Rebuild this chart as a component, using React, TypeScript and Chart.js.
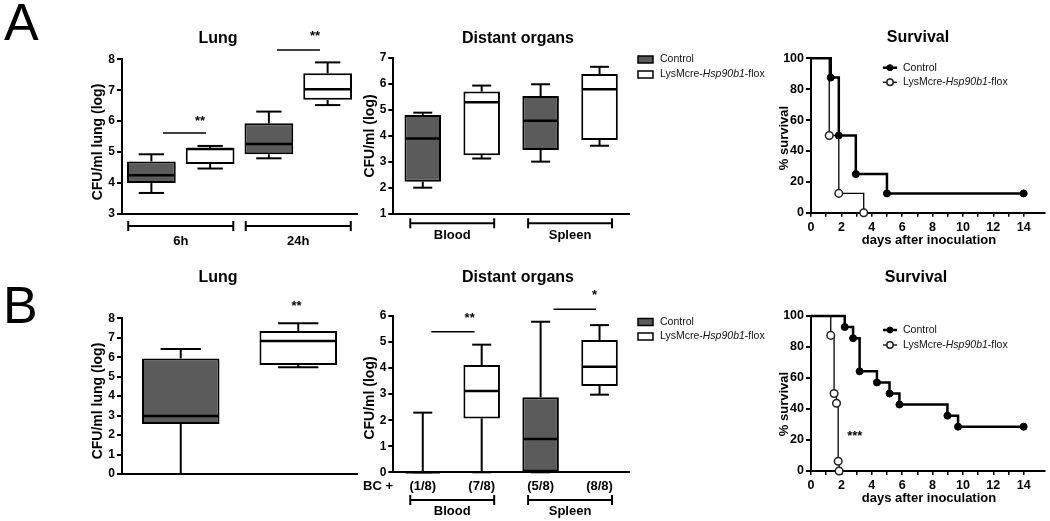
import React, { useEffect, useRef } from 'react';
import { Chart, registerables } from 'chart.js';

Chart.register(...registerables);

const W = 1050;
const H = 521;
const FF = '"Liberation Sans", Arial, Helvetica, sans-serif';
const CTRL_FILL = '#5b5b5b';
const LYS_FILL = '#ffffff';
const INK = '#000000';

// ---------------- data ----------------
const seriesNames = ['Control', 'LysMcre-Hsp90b1-flox'];
const italicGene = 'Hsp90b1';

// box-plot stats per group: [min, q1, median, q3, max]
const lungAGroups = ['6h', '24h'];
const lungACtrl = [[3.68, 4.0, 4.25, 4.7, 4.93], [4.8, 4.93, 5.26, 5.93, 6.31]];
const lungALys = [[4.47, 4.62, 5.1, 5.13, 5.2], [6.52, 6.69, 7.03, 7.55, 7.9]];

const organGroups = ['Blood', 'Spleen'];
const organsACtrl = [[2.01, 2.24, 3.9, 4.8, 4.89], [3.01, 3.46, 4.58, 5.53, 5.98]];
const organsALys = [[3.13, 3.26, 5.29, 5.7, 5.93], [3.62, 3.84, 5.79, 6.37, 6.65]];

const lungBGroups = [''];
const lungBCtrl = [[0, 2.57, 2.98, 5.94, 6.42]];
const lungBLys = [[5.48, 5.6, 6.83, 7.35, 7.74]];

const organsBCtrl = [[0, 0, 0, 0, 2.29], [0, 0, 1.28, 2.88, 5.78]];
const organsBLys = [[0, 2.07, 3.12, 4.12, 4.9], [2.98, 3.31, 4.05, 5.08, 5.65]];
const bcCtrl = ['(1/8)', '(5/8)'];
const bcLys = ['(7/8)', '(8/8)'];

// survival (Kaplan-Meier): day of event, % surviving after it
const survADaysCtrl = [0, 1.3, 1.83, 2.95, 5, 14];
const survAPctCtrl = [100, 87.5, 50, 25, 12.5, 12.5];
const survADaysLys = [0, 1.2, 1.83, 3.47];
const survAPctLys = [100, 50, 12.5, 0];
const survBDaysCtrl = [0, 2.22, 2.77, 3.2, 4.34, 5.17, 5.82, 8.98, 9.68, 14];
const survBPctCtrl = [100, 92.9, 85.7, 64.3, 57.1, 50, 42.9, 35.7, 28.6, 28.6];
const survBDaysLys = [0, 1.3, 1.52, 1.68, 1.79, 1.85];
const survBPctLys = [100, 87.5, 50, 43.75, 6.25, 0];

// ---------------- helpers ----------------
type Area = { l: number; r: number; t: number; b: number };

function font(size: number, bold = false, italic = false) {
  return `${italic ? 'italic ' : ''}${bold ? 'bold ' : ''}${size}px ${FF}`;
}

function text(ctx: CanvasRenderingContext2D, s: string, x: number, y: number, size: number, bold = true, align: CanvasTextAlign = 'center', baseline: CanvasTextBaseline = 'alphabetic') {
  ctx.font = font(size, bold);
  ctx.fillStyle = INK;
  ctx.textAlign = align;
  ctx.textBaseline = baseline;
  ctx.fillText(s, x, y);
}

function rotText(ctx: CanvasRenderingContext2D, s: string, x: number, y: number, size: number) {
  ctx.save();
  ctx.translate(x, y);
  ctx.rotate(-Math.PI / 2);
  text(ctx, s, 0, 0, size, true, 'center', 'middle');
  ctx.restore();
}

function seriesLabel(ctx: CanvasRenderingContext2D, name: string, x: number, y: number, size: number) {
  const parts = name.split(new RegExp(`(${italicGene})`));
  let cx = x;
  ctx.fillStyle = '#111';
  ctx.textAlign = 'left';
  ctx.textBaseline = 'middle';
  for (const part of parts) {
    if (!part) continue;
    ctx.font = font(size, false, part === italicGene);
    ctx.fillText(part, cx, y);
    cx += ctx.measureText(part).width;
  }
}

function seg(ctx: CanvasRenderingContext2D, x1: number, y1: number, x2: number, y2: number) {
  ctx.beginPath();
  ctx.moveTo(x1, y1);
  ctx.lineTo(x2, y2);
  ctx.stroke();
}

// ---------------- box panels ----------------
type Sig = { group: number; from?: number; to?: number; lineY?: number; starX: number; starY: number; label: string };
type BoxPanel = {
  area: Area; yMin: number; yMax: number;
  groups: string[]; ctrl: number[][]; lys: number[][];
  barPct: number; catPct: number;
  title: string; titleX: number; titleY: number;
  yTitle: string; yTitleX: number; yTitleY: number;
  bracket?: { y: number; half: number; labelY: number };
  sigs: Sig[];
  bc?: { y: number; labelX: number; ctrl: string[]; lys: string[] };
  legend?: { boxX: number; rows: number[]; textX: number };
  letter?: { text: string; x: number; y: number };
};

function boxChart(canvas: HTMLCanvasElement, p: BoxPanel) {
  const { l, r, t, b } = p.area;
  const stats = [p.ctrl, p.lys];
  const fills = [CTRL_FILL, LYS_FILL];
  const datasets = stats.map((st, k) => ({
    label: seriesNames[k],
    data: st.map((s) => [s[1], s[3]]),
    backgroundColor: fills[k],
    borderColor: INK,
    borderWidth: 2,
    borderSkipped: false,
    barPercentage: p.barPct,
    categoryPercentage: p.catPct,
  }));

  const plugin = {
    id: 'boxDecor',
    afterDatasetsDraw(chart: any) {
      const ctx = chart.ctx as CanvasRenderingContext2D;
      const ys = chart.scales.y;
      ctx.save();
      ctx.strokeStyle = INK;
      stats.forEach((st, di) => {
        const meta = chart.getDatasetMeta(di);
        st.forEach((s, j) => {
          const el = meta.data[j];
          const { x, width } = el.getProps(['x', 'width'], true);
          const yp = (v: number) => ys.getPixelForValue(v);
          const cap = (width * 0.52) / 2;
          ctx.lineWidth = 2;
          seg(ctx, x, yp(s[3]), x, yp(s[4]));
          seg(ctx, x - cap, yp(s[4]), x + cap, yp(s[4]));
          seg(ctx, x, yp(s[1]), x, yp(s[0]));
          seg(ctx, x - cap, yp(s[0]), x + cap, yp(s[0]));
          ctx.lineWidth = 2.5;
          seg(ctx, x - width / 2 + 1, yp(s[2]), x + width / 2 - 1, yp(s[2]));
        });
      });
      ctx.restore();
    },
    afterDraw(chart: any) {
      const ctx = chart.ctx as CanvasRenderingContext2D;
      const xs = chart.scales.x;
      const ys = chart.scales.y;
      const catW = (xs.right - xs.left) / p.groups.length;
      const cx = (i: number) => xs.getPixelForValue(i);
      ctx.save();
      text(ctx, p.title, p.titleX, p.titleY, 16);
      rotText(ctx, p.yTitle, p.yTitleX, p.yTitleY, 14);
      ctx.strokeStyle = INK;
      if (p.bracket) {
        const br = p.bracket;
        ctx.lineWidth = 2;
        p.groups.forEach((g, i) => {
          const x1 = cx(i) - br.half * catW;
          const x2 = cx(i) + br.half * catW;
          seg(ctx, x1, br.y, x2, br.y);
          seg(ctx, x1, br.y - 5, x1, br.y + 5);
          seg(ctx, x2, br.y - 5, x2, br.y + 5);
          text(ctx, g, cx(i), br.labelY, 13);
        });
      }
      p.sigs.forEach((s) => {
        if (s.lineY !== undefined && s.from !== undefined && s.to !== undefined) {
          ctx.lineWidth = 1.5;
          const y = ys.getPixelForValue(s.lineY);
          seg(ctx, cx(s.group) + s.from * catW, y, cx(s.group) + s.to * catW, y);
        }
        text(ctx, s.label, cx(s.group) + s.starX * catW, ys.getPixelForValue(s.starY), 13);
      });
      if (p.bc) {
        const bc = p.bc;
        text(ctx, 'BC +', bc.labelX, bc.y, 13);
        [bc.ctrl, bc.lys].forEach((labels, di) => {
          const meta = chart.getDatasetMeta(di);
          labels.forEach((lab, j) => text(ctx, lab, meta.data[j].x, bc.y, 13));
        });
      }
      if (p.legend) {
        const lg = p.legend;
        chart.data.datasets.forEach((ds: any, i: number) => {
          const y = lg.rows[i];
          ctx.fillStyle = ds.backgroundColor;
          ctx.fillRect(lg.boxX, y - 3.5, 15, 7);
          ctx.lineWidth = 1.5;
          ctx.strokeStyle = INK;
          ctx.strokeRect(lg.boxX, y - 3.5, 15, 7);
          seriesLabel(ctx, ds.label, lg.textX, y, 10.5);
        });
      }
      if (p.letter) {
        ctx.font = font(52);
        ctx.fillStyle = INK;
        ctx.textAlign = 'left';
        ctx.textBaseline = 'alphabetic';
        ctx.fillText(p.letter.text, p.letter.x, p.letter.y);
      }
      ctx.restore();
    },
  };

  return new Chart(canvas, {
    type: 'bar',
    data: { labels: p.groups, datasets: datasets as any },
    options: {
      animation: false,
      responsive: false,
      events: [],
      layout: { padding: { left: 0, top: t, right: W - r, bottom: 0 } },
      plugins: { legend: { display: false }, title: { display: false }, tooltip: { enabled: false } },
      scales: {
        x: {
          type: 'category',
          offset: true,
          grid: { display: false },
          ticks: { display: false },
          border: { display: true, color: INK, width: 2 },
          afterFit: (s: any) => { s.height = H - b; },
        },
        y: {
          type: 'linear',
          min: p.yMin,
          max: p.yMax,
          ticks: { stepSize: 1, color: INK, padding: 2, font: { family: FF, size: 12, weight: 'bold' } },
          grid: { display: true, drawOnChartArea: false, drawTicks: true, tickLength: 5, color: INK, lineWidth: 2 },
          border: { display: true, color: INK, width: 2 },
          afterFit: (s: any) => { s.width = l; },
        },
      },
    } as any,
    plugins: [plugin],
  });
}

// ---------------- survival panels ----------------
type SurvPanel = {
  area: Area; xMax: number;
  ctrlDays: number[]; ctrlPct: number[]; lysDays: number[]; lysPct: number[];
  titleX: number; titleY: number;
  yTitleX: number; yTitleY: number; xTitleX: number; xTitleY: number;
  legend: { x0: number; x1: number; textX: number; rows: number[] };
  stars?: { text: string; x: number; y: number };
};

function survChart(canvas: HTMLCanvasElement, p: SurvPanel) {
  const { l, r, t, b } = p.area;
  const mk = (days: number[], pct: number[]) => days.map((d, i) => ({ x: d, y: pct[i] }));
  const datasets = [
    {
      label: seriesNames[0], data: mk(p.ctrlDays, p.ctrlPct), stepped: 'before',
      borderColor: INK, borderWidth: 2.5,
      pointRadius: p.ctrlDays.map((_, i) => (i === 0 ? 0 : 3.5)),
      pointBackgroundColor: INK, pointBorderColor: INK, pointBorderWidth: 1,
      fill: false, clip: false, legendRadius: 3,
    },
    {
      label: seriesNames[1], data: mk(p.lysDays, p.lysPct), stepped: 'before',
      borderColor: INK, borderWidth: 1.3,
      pointRadius: p.lysDays.map((_, i) => (i === 0 ? 0 : 3.8)),
      pointBackgroundColor: '#ffffff', pointBorderColor: '#222222', pointBorderWidth: 1.5,
      fill: false, clip: false, legendRadius: 3.2,
    },
  ];
  const tickFont = { family: FF, size: 12.5, weight: 'bold' };
  const plugin = {
    id: 'survDecor',
    afterDraw(chart: any) {
      const ctx = chart.ctx as CanvasRenderingContext2D;
      const xs = chart.scales.x;
      const ys = chart.scales.y;
      ctx.save();
      text(ctx, 'Survival', p.titleX, p.titleY, 16);
      rotText(ctx, '% survival', p.yTitleX, p.yTitleY, 13);
      text(ctx, 'days after inoculation', p.xTitleX, p.xTitleY, 13);
      const lg = p.legend;
      chart.data.datasets.forEach((ds: any, i: number) => {
        const y = lg.rows[i];
        ctx.strokeStyle = INK;
        ctx.lineWidth = ds.borderWidth;
        seg(ctx, lg.x0, y, lg.x1, y);
        ctx.beginPath();
        ctx.arc((lg.x0 + lg.x1) / 2, y, ds.legendRadius, 0, Math.PI * 2);
        ctx.fillStyle = ds.pointBackgroundColor;
        ctx.fill();
        ctx.lineWidth = ds.pointBorderWidth;
        ctx.strokeStyle = ds.pointBorderColor;
        ctx.stroke();
        seriesLabel(ctx, ds.label, lg.textX, y, 10.5);
      });
      if (p.stars) {
        text(ctx, p.stars.text, xs.getPixelForValue(p.stars.x), ys.getPixelForValue(p.stars.y), 13);
      }
      ctx.restore();
    },
  };
  return new Chart(canvas, {
    type: 'line',
    data: { datasets: datasets as any },
    options: {
      animation: false,
      responsive: false,
      events: [],
      layout: { padding: { left: 0, top: t, right: W - r, bottom: 0 } },
      plugins: { legend: { display: false }, title: { display: false }, tooltip: { enabled: false } },
      scales: {
        x: {
          type: 'linear', min: 0, max: p.xMax,
          afterBuildTicks: (s: any) => { s.ticks = s.ticks.filter((tk: any) => Number.isInteger(tk.value)); },
          ticks: {
            stepSize: 1, autoSkip: false, maxRotation: 0, color: INK, padding: 3, font: tickFont,
            callback: (v: any) => (Number(v) % 2 === 0 ? String(v) : ''),
          },
          grid: { display: true, drawOnChartArea: false, drawTicks: true, tickLength: 4, color: INK, lineWidth: 1.5 },
          border: { display: true, color: INK, width: 2 },
          afterFit: (s: any) => { s.height = H - b; },
        },
        y: {
          type: 'linear', min: 0, max: 100,
          ticks: { stepSize: 20, color: INK, padding: 2, font: tickFont },
          grid: { display: true, drawOnChartArea: false, drawTicks: true, tickLength: 5, color: INK, lineWidth: 2 },
          border: { display: true, color: INK, width: 2 },
          afterFit: (s: any) => { s.width = l; },
        },
      },
    } as any,
    plugins: [plugin],
  });
}

// ---------------- panel layouts ----------------
const lungA: BoxPanel = {
  area: { l: 122, r: 357, t: 59.3, b: 214 }, yMin: 3, yMax: 8,
  groups: lungAGroups, ctrl: lungACtrl, lys: lungALys, barPct: 0.83, catPct: 1,
  title: 'Lung', titleX: 218, titleY: 43,
  yTitle: 'CFU/ml lung (log)', yTitleX: 98, yTitleY: 142,
  bracket: { y: 226, half: 0.447, labelY: 245 },
  sigs: [
    { group: 0, from: -0.151, to: 0.215, lineY: 5.62, starX: 0.164, starY: 5.88, label: '**' },
    { group: 1, from: -0.181, to: 0.185, lineY: 8.3, starX: 0.143, starY: 8.63, label: '**' },
  ],
  letter: { text: 'A', x: 4, y: 40 },
};

const organsA: BoxPanel = {
  area: { l: 393.3, r: 629, t: 57.7, b: 214 }, yMin: 1, yMax: 7,
  groups: organGroups, ctrl: organsACtrl, lys: organsALys, barPct: 0.62, catPct: 1,
  title: 'Distant organs', titleX: 518, titleY: 43,
  yTitle: 'CFU/ml (log)', yTitleX: 370, yTitleY: 136,
  bracket: { y: 223.3, half: 0.356, labelY: 238.5 },
  sigs: [],
  legend: { boxX: 638, rows: [59.5, 74.5], textX: 660 },
};

const lungB: BoxPanel = {
  area: { l: 122, r: 357, t: 318.3, b: 474 }, yMin: 0, yMax: 8,
  groups: lungBGroups, ctrl: lungBCtrl, lys: lungBLys, barPct: 0.66, catPct: 1,
  title: 'Lung', titleX: 218, titleY: 282,
  yTitle: 'CFU/ml lung (log)', yTitleX: 98.3, yTitleY: 401,
  sigs: [{ group: 0, starX: 0.243, starY: 8.43, label: '**' }],
  letter: { text: 'B', x: 3, y: 323 },
};

const organsB: BoxPanel = {
  area: { l: 393.3, r: 629, t: 316, b: 472.3 }, yMin: 0, yMax: 6,
  groups: organGroups, ctrl: organsBCtrl, lys: organsBLys, barPct: 0.62, catPct: 1,
  title: 'Distant organs', titleX: 518, titleY: 282,
  yTitle: 'CFU/ml (log)', yTitleX: 370, yTitleY: 398,
  bracket: { y: 500, half: 0.356, labelY: 515 },
  sigs: [
    { group: 0, from: -0.177, to: 0.19, lineY: 5.4, starX: 0.148, starY: 5.76, label: '**' },
    { group: 1, from: -0.14, to: 0.22, lineY: 6.26, starX: 0.208, starY: 6.66, label: '*' },
  ],
  bc: { y: 490, labelX: 378, ctrl: bcCtrl, lys: bcLys },
  legend: { boxX: 638, rows: [322, 336.5], textX: 660 },
};

const survA: SurvPanel = {
  area: { l: 811, r: 1046, t: 58.3, b: 212.7 }, xMax: 15.37,
  ctrlDays: survADaysCtrl, ctrlPct: survAPctCtrl, lysDays: survADaysLys, lysPct: survAPctLys,
  titleX: 918, titleY: 42, yTitleX: 784, yTitleY: 138, xTitleX: 929, xTitleY: 244,
  legend: { x0: 883, x1: 897, textX: 903, rows: [67.7, 82.3] },
};

const survB: SurvPanel = {
  area: { l: 811, r: 1046, t: 316, b: 471 }, xMax: 15.37,
  ctrlDays: survBDaysCtrl, ctrlPct: survBPctCtrl, lysDays: survBDaysLys, lysPct: survBPctLys,
  titleX: 916, titleY: 282, yTitleX: 784, yTitleY: 404, xTitleX: 929, xTitleY: 502,
  legend: { x0: 883, x1: 897, textX: 903, rows: [330, 345] },
  stars: { text: '***', x: 2.88, y: 20 },
};

const boxPanels = [lungA, organsA, lungB, organsB];
const survPanels = [survA, survB];

export default function App() {
  const refs = useRef<(HTMLCanvasElement | null)[]>([]);
  useEffect(() => {
    const charts: Chart[] = [];
    boxPanels.forEach((p, i) => {
      const c = refs.current[i];
      if (c) charts.push(boxChart(c, p));
    });
    survPanels.forEach((p, i) => {
      const c = refs.current[boxPanels.length + i];
      if (c) charts.push(survChart(c, p));
    });
    return () => charts.forEach((c) => c.destroy());
  }, []);
  const n = boxPanels.length + survPanels.length;
  return (
    <div style={{ position: 'absolute', left: 0, top: 0, width: W, height: H, background: '#fff', overflow: 'hidden' }}>
      {Array.from({ length: n }).map((_, i) => (
        <canvas
          key={i}
          ref={(el) => { refs.current[i] = el; }}
          width={W}
          height={H}
          style={{ position: 'absolute', left: 0, top: 0, width: W, height: H }}
        />
      ))}
    </div>
  );
}
